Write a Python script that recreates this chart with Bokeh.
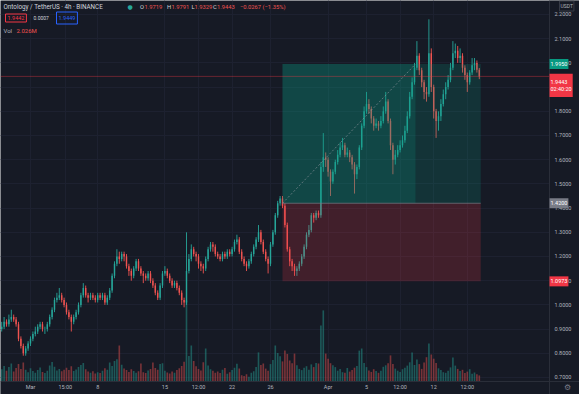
from bokeh.plotting import figure
from bokeh.models import Range1d, FixedTicker, PrintfTickFormatter, Label, ColumnDataSource
from bokeh.embed import file_html
from bokeh.resources import INLINE

# ---------------- data ----------------
first_open = 0.90
close_vals = [
    0.91, 0.93, 0.92, 0.94, 0.95, 0.94, 0.92, 0.86, 0.83, 0.80,
    0.82, 0.84, 0.86, 0.88, 0.89, 0.91, 0.92, 0.90, 0.90, 0.92,
    0.95, 0.98, 1.02, 1.03, 1.04, 1.02, 1.00, 0.97, 0.95, 0.93,
    0.95, 0.97, 1.00, 1.04, 1.07, 1.04, 1.03, 1.04, 1.03, 1.02,
    1.04, 1.03, 1.04, 1.01, 1.03, 1.06, 1.12, 1.17, 1.20, 1.19,
    1.21, 1.20, 1.16, 1.14, 1.12, 1.15, 1.18, 1.15, 1.13, 1.12,
    1.11, 1.13, 1.10, 1.08, 1.05, 1.03, 1.08, 1.13, 1.14, 1.12,
    1.10, 1.08, 1.09, 1.07, 1.05, 1.02, 1.01, 1.14, 1.19, 1.23,
    1.21, 1.20, 1.17, 1.16, 1.15, 1.19, 1.23, 1.25, 1.24, 1.21,
    1.20, 1.19, 1.21, 1.20, 1.22, 1.21, 1.23, 1.26, 1.27, 1.22,
    1.19, 1.17, 1.16, 1.18, 1.21, 1.24, 1.27, 1.30, 1.26, 1.22,
    1.19, 1.17, 1.25, 1.30, 1.37, 1.42, 1.44, 1.41, 1.33, 1.23,
    1.18, 1.16, 1.14, 1.15, 1.17, 1.20, 1.24, 1.29, 1.31, 1.37,
    1.36, 1.38, 1.37, 1.57, 1.61, 1.60, 1.55, 1.51, 1.55, 1.59,
    1.62, 1.65, 1.66, 1.62, 1.63, 1.61, 1.58, 1.54, 1.57, 1.65,
    1.74, 1.80, 1.83, 1.81, 1.77, 1.74, 1.75, 1.74, 1.76, 1.80,
    1.84, 1.76, 1.66, 1.60, 1.62, 1.64, 1.66, 1.68, 1.72, 1.78,
    1.86, 1.92, 1.98, 2.03, 1.97, 1.92, 1.88, 1.87, 2.04, 1.90,
    1.80, 1.76, 1.78, 1.83, 1.87, 1.90, 1.93, 1.98, 2.04, 2.05,
    2.02, 2.03, 1.98, 1.95, 1.92, 1.96, 1.99, 2.00, 1.9719, 1.9443,
]
high_vals = [
    0.93, 0.95, 0.94, 0.96, 0.98, 0.96, 0.95, 0.93, 0.87, 0.84,
    0.83, 0.85, 0.87, 0.89, 0.91, 0.92, 0.93, 0.93, 0.91, 0.93,
    0.96, 0.99, 1.03, 1.05, 1.07, 1.05, 1.03, 1.01, 0.98, 0.96,
    0.96, 0.98, 1.01, 1.05, 1.09, 1.08, 1.05, 1.05, 1.05, 1.04,
    1.05, 1.05, 1.05, 1.05, 1.04, 1.07, 1.13, 1.18, 1.23, 1.22,
    1.22, 1.22, 1.21, 1.17, 1.15, 1.16, 1.19, 1.19, 1.16, 1.14,
    1.13, 1.14, 1.14, 1.11, 1.09, 1.06, 1.09, 1.14, 1.16, 1.15,
    1.13, 1.11, 1.10, 1.10, 1.08, 1.06, 1.03, 1.30, 1.21, 1.25,
    1.24, 1.22, 1.21, 1.18, 1.17, 1.20, 1.24, 1.26, 1.26, 1.25,
    1.22, 1.21, 1.22, 1.22, 1.23, 1.23, 1.24, 1.27, 1.29, 1.28,
    1.23, 1.20, 1.18, 1.19, 1.22, 1.25, 1.28, 1.33, 1.31, 1.27,
    1.23, 1.20, 1.26, 1.31, 1.38, 1.43, 1.45, 1.45, 1.42, 1.34,
    1.24, 1.19, 1.17, 1.16, 1.18, 1.21, 1.25, 1.30, 1.33, 1.38,
    1.38, 1.39, 1.39, 1.59, 1.71, 1.63, 1.61, 1.56, 1.56, 1.60,
    1.64, 1.67, 1.69, 1.67, 1.65, 1.64, 1.62, 1.59, 1.58, 1.66,
    1.75, 1.82, 1.88, 1.85, 1.82, 1.78, 1.77, 1.76, 1.78, 1.82,
    1.88, 1.85, 1.77, 1.67, 1.64, 1.66, 1.68, 1.70, 1.74, 1.80,
    1.88, 1.94, 2.00, 2.09, 2.04, 1.98, 1.93, 1.90, 2.18, 2.06,
    1.91, 1.81, 1.80, 1.85, 1.89, 1.92, 1.95, 2.00, 2.09, 2.08,
    2.07, 2.06, 2.04, 1.99, 1.96, 1.97, 2.02, 2.02, 2.01, 1.9791,
]
low_vals = [
    0.89, 0.90, 0.91, 0.91, 0.93, 0.93, 0.91, 0.85, 0.82, 0.79,
    0.79, 0.81, 0.83, 0.85, 0.87, 0.88, 0.90, 0.89, 0.88, 0.89,
    0.91, 0.94, 0.97, 1.01, 1.02, 1.01, 0.99, 0.96, 0.94, 0.89,
    0.92, 0.94, 0.96, 0.99, 1.03, 1.03, 1.01, 1.02, 1.02, 1.01,
    1.01, 1.02, 1.02, 1.00, 1.00, 1.02, 1.05, 1.11, 1.16, 1.17,
    1.18, 1.18, 1.15, 1.12, 1.10, 1.11, 1.14, 1.14, 1.12, 1.09,
    1.10, 1.10, 1.09, 1.07, 1.04, 1.02, 1.02, 1.07, 1.12, 1.11,
    1.09, 1.07, 1.07, 1.06, 1.04, 1.00, 0.99, 1.00, 1.13, 1.18,
    1.20, 1.18, 1.15, 1.14, 1.13, 1.14, 1.18, 1.22, 1.22, 1.20,
    1.19, 1.18, 1.18, 1.19, 1.19, 1.20, 1.20, 1.22, 1.25, 1.21,
    1.18, 1.16, 1.14, 1.15, 1.17, 1.20, 1.23, 1.26, 1.25, 1.21,
    1.18, 1.13, 1.16, 1.24, 1.29, 1.36, 1.41, 1.40, 1.32, 1.22,
    1.16, 1.14, 1.12, 1.12, 1.14, 1.16, 1.19, 1.23, 1.28, 1.30,
    1.34, 1.35, 1.36, 1.36, 1.55, 1.57, 1.53, 1.45, 1.50, 1.54,
    1.58, 1.61, 1.64, 1.61, 1.61, 1.59, 1.56, 1.46, 1.52, 1.56,
    1.64, 1.73, 1.79, 1.79, 1.75, 1.72, 1.73, 1.72, 1.73, 1.75,
    1.79, 1.75, 1.64, 1.54, 1.58, 1.61, 1.63, 1.65, 1.67, 1.71,
    1.77, 1.85, 1.91, 1.97, 1.95, 1.90, 1.85, 1.84, 1.86, 1.88,
    1.77, 1.69, 1.72, 1.76, 1.82, 1.85, 1.89, 1.92, 1.97, 2.02,
    2.00, 2.00, 1.96, 1.93, 1.88, 1.91, 1.95, 1.97, 1.96, 1.9329,
]
volume_vals = [  # millions
    4.1, 5.2, 3.6, 4.8, 6.0, 3.3, 4.5, 5.8, 4.2, 6.3,
    3.9, 3.1, 4.4, 3.5, 2.9, 3.8, 4.7, 3.2, 2.8, 3.6,
    5.3, 6.5, 4.9, 3.7, 4.2, 3.4, 3.9, 4.6, 3.8, 5.1,
    3.5, 4.0, 4.8, 5.5, 6.2, 4.1, 3.3, 2.9, 3.4, 2.7,
    3.1, 2.8, 3.6, 4.4, 3.9, 6.3, 5.2, 6.8, 7.4, 12.0,
    5.6, 4.3, 3.8, 3.2, 4.1, 3.5, 2.9, 3.4, 6.0, 3.1,
    2.8, 3.7, 4.2, 6.3, 4.5, 3.9, 5.8, 6.1, 3.6, 3.0,
    2.7, 3.3, 2.9, 3.8, 4.4, 5.2, 6.6, 27.0, 8.5, 12.0,
    6.8, 5.1, 4.2, 3.7, 6.4, 11.0, 5.3, 4.1, 3.6, 2.9,
    3.3, 2.8, 3.9, 4.5, 2.6, 3.1, 3.8, 4.6, 5.9, 4.3,
    2.1, 1.8, 2.4, 1.6, 2.9, 3.4, 4.8, 9.7, 5.5, 6.0,
    4.3, 3.6, 5.8, 7.2, 12.0, 9.5, 8.4, 6.7, 10.3, 9.2,
    7.0, 6.1, 9.3, 5.4, 4.2, 3.8, 4.6, 5.1, 3.9, 5.7,
    4.8, 6.2, 6.0, 18.7, 23.7, 9.3, 7.6, 6.1, 5.4, 4.8,
    3.6, 4.2, 3.1, 2.9, 4.5, 3.3, 3.8, 4.6, 5.2, 10.3,
    11.0, 6.2, 4.8, 3.7, 3.2, 4.1, 3.5, 2.9, 3.6, 4.9,
    5.4, 6.1, 8.7, 5.8, 4.3, 3.6, 3.2, 4.1, 4.6, 5.3,
    6.4, 9.7, 5.5, 7.3, 5.8, 4.2, 6.3, 8.1, 12.7, 9.0,
    7.6, 6.2, 4.4, 3.8, 3.1, 2.9, 3.6, 4.7, 8.0, 5.3,
    4.2, 3.5, 3.9, 2.8, 3.3, 4.1, 2.6, 3.0, 2.4, 2.026,
]
first_day = -3.0          # days from 1 Mar of the first bar
bar_days = 0.25           # spacing of bars in days

price_ticks = [0.7, 0.8, 0.9, 1.0, 1.1, 1.2, 1.3, 1.4, 1.5, 1.6, 1.7, 1.8, 1.9, 2.0, 2.1, 2.2]
time_ticks = [0, 3.625, 7, 14, 17.5, 21, 25, 31, 35, 38.5, 42, 45.5]
time_labels = ["Mar", "15:00", "8", "15", "12:00", "22", "26", "Apr", "5", "12:00", "12", "12:00"]

entry_price = 1.4200
target_price = 1.9950
stop_price = 1.0973
last_price = 1.9443
pos_start, pos_hit, pos_end = 26.25, 40.1, 46.9

# ---------------- layout / styling ----------------
BG = "#161a25"
UP = "#26a69a"
DOWN = "#ef5350"
TXT = "#b2b5be"
FONT = "Roboto"

X0, X_AXIS, X1 = -3.125, 54.0625, 57.1875       # left edge, price-scale line, right edge (days)
Y0, Y_AXIS, Y1 = 0.62975, 0.6835, 2.25785       # bottom edge, time-scale line, top edge (price)

opens = [first_open] + close_vals[:-1]
n = len(close_vals)
days = [first_day + k * bar_days for k in range(n)]
cols = [UP if c >= o else DOWN for o, c in zip(opens, close_vals)]
src = ColumnDataSource(dict(
    x=days, h=high_vals, l=low_vals, v=volume_vals, col=cols,
    top=[max(o, c) for o, c in zip(opens, close_vals)],
    bot=[min(o, c) for o, c in zip(opens, close_vals)],
))

p = figure(width=579, height=394, output_backend="svg", toolbar_location=None,
           x_range=Range1d(X0, X1), y_range=Range1d(Y0, Y1),
           y_axis_location="right",
           min_border_left=0, min_border_top=0, min_border_right=0, min_border_bottom=0,
           background_fill_color=BG, border_fill_color=BG, outline_line_color=None)
p.extra_y_ranges = {"vol": Range1d(-13 / 3, 127)}

# axes drawn inside the canvas at the TradingView scale positions
ya = p.yaxis[0]
ya.fixed_location = X_AXIS
ya.ticker = FixedTicker(ticks=price_ticks)
ya.formatter = PrintfTickFormatter(format="%.4f")
ya.major_tick_line_color = None
ya.minor_tick_line_color = None
ya.major_tick_out = 0
ya.major_tick_in = 0
ya.major_label_standoff = 5
ya.axis_line_color = "#2a2e39"
ya.major_label_text_color = TXT
ya.major_label_text_font = FONT
ya.major_label_text_font_size = "5.5px"

xa = p.xaxis[0]
xa.fixed_location = Y_AXIS
xa.ticker = FixedTicker(ticks=time_ticks)
xa.major_label_overrides = {t: l for t, l in zip(time_ticks, time_labels)}
xa.major_tick_line_color = None
xa.minor_tick_line_color = None
xa.major_tick_out = 0
xa.major_tick_in = 0
xa.major_label_standoff = 3
xa.axis_line_color = "#2a2e39"
xa.major_label_text_color = TXT
xa.major_label_text_font = FONT
xa.major_label_text_font_size = "5.5px"

p.xgrid.ticker = FixedTicker(ticks=time_ticks)
p.ygrid.ticker = FixedTicker(ticks=price_ticks)
p.grid.grid_line_color = "#1d2130"
p.grid.grid_line_width = 1

# keep the scale strips free of grid lines
p.quad(left=[X_AXIS, X0], right=[X1, X1], bottom=[Y0, Y0], top=[Y1, Y_AXIS],
       fill_color=BG, line_color=None)

# volume
p.vbar(x="x", width=0.17, top="v", bottom=0, y_range_name="vol", source=src,
       fill_color="col", fill_alpha=0.45, line_color=None)
# candles
p.segment(x0="x", y0="h", x1="x", y1="l", line_color="col", line_width=0.9, source=src)
p.vbar(x="x", width=0.15, top="top", bottom="bot", fill_color="col", line_color=None, source=src)

# long position tool
p.quad(left=[pos_start], right=[pos_end], bottom=[entry_price], top=[target_price],
       fill_color="#089981", fill_alpha=0.2, line_color=None)
p.quad(left=[pos_start], right=[pos_hit], bottom=[entry_price], top=[target_price],
       fill_color="#089981", fill_alpha=0.2, line_color=None)
p.quad(left=[pos_start], right=[pos_end], bottom=[stop_price], top=[entry_price],
       fill_color="#f23645", fill_alpha=0.2, line_color=None)
p.segment(x0=[pos_start], y0=[entry_price], x1=[pos_end], y1=[entry_price],
          line_color="#787b86", line_alpha=0.7, line_width=1)
p.segment(x0=[pos_start], y0=[entry_price], x1=[pos_hit], y1=[target_price],
          line_color="#9598a1", line_alpha=0.6, line_width=1, line_dash="2 2")

# last price line
p.segment(x0=[X0], y0=[last_price], x1=[X_AXIS], y1=[last_price],
          line_color="#f23645", line_alpha=0.38, line_width=1)


def lab(text, x, y, color, size="6.3px", y_units="screen", x_units="screen", bg=None,
        border=None, pad=None, align="left", baseline="middle", font=FONT):
    kw = dict(x=x, y=y, x_units=x_units, y_units=y_units, text=text, text_color=color,
              text_font=font, text_font_size=size, text_align=align, text_baseline=baseline)
    if bg is not None:
        kw["background_fill_color"] = bg
    if border is not None:
        kw["border_line_color"] = border
    if pad is not None:
        kw["padding"] = pad
    p.add_layout(Label(**kw))


# price tags on the price scale
lab(f"{target_price:.4f}", X_AXIS, target_price, "#ffffff", size="5.5px", x_units="data",
    y_units="data", bg="#089981", pad=(1, 3))
lab(f"{last_price:.4f}\n02:40:20", X_AXIS, 1.955, "#ffffff", size="5.5px", x_units="data",
    y_units="data", bg="#f23645", pad=(1, 5), baseline="top")
lab(f"{entry_price:.4f}", X_AXIS, entry_price, "#ffffff", size="5.5px", x_units="data",
    y_units="data", bg="#787b86", pad=(1, 3))
lab(f"{stop_price:.4f}", X_AXIS, stop_price, "#ffffff", size="5.5px", x_units="data",
    y_units="data", bg="#f23645", pad=(1, 3))
lab("USDT", 559, 388.5, TXT, size="5px", border="#363a45", pad=(1, 2))
lab("\u2699", 567, 7, "#787b86", size="8px", align="center", font="DejaVu Sans")

# top-left legend (screen y measured from the bottom of the canvas)
L1 = 394 - 6
lab("Ontology / TetherUS · 4h · BINANCE", 3, L1, "#d1d4dc")
lab("\u25cf", 127, L1, UP, size="6px", font="DejaVu Sans")
lab("O", 139.5, L1, "#d1d4dc", size="5.8px")
lab("1.9719", 144, L1, DOWN, size="5.8px")
lab("H", 166.5, L1, "#d1d4dc", size="5.8px")
lab("1.9791", 171, L1, DOWN, size="5.8px")
lab("L", 191, L1, "#d1d4dc", size="5.8px")
lab("1.9329", 194, L1, DOWN, size="5.8px")
lab("C", 212.5, L1, "#d1d4dc", size="5.8px")
lab("1.9443", 216.5, L1, DOWN, size="5.8px")
lab("\u22120.0267 (\u22121.35%)", 239.5, L1, DOWN, size="5.8px")

L2 = 394 - 17.5
lab("1.9442", 5, L2, "#f23645", size="5.5px", border="#f23645", pad=(2, 2))
lab("0.0007", 33, L2, "#d1d4dc", size="5px")
lab("1.9449", 56, L2, "#2962ff", size="5.5px", border="#2962ff", pad=(2, 4))

L3 = 394 - 30
lab("Vol", 3, L3, TXT, size="6px")
lab("2.026M", 16, L3, DOWN, size="6px")

open("out.html", "w").write(file_html(p, INLINE))
